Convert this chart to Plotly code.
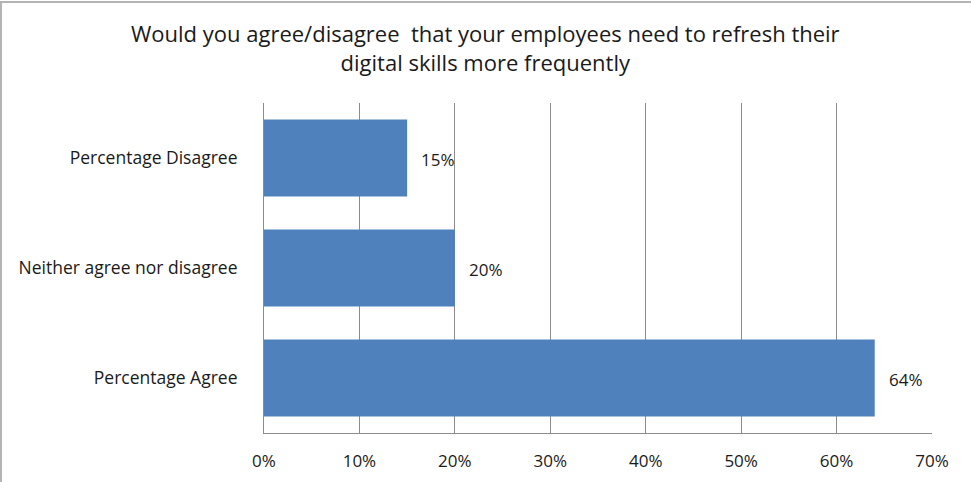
import plotly.graph_objects as go

# Survey responses (bottom to top in the chart)
categories = ["Percentage Agree", "Neither agree nor disagree", "Percentage Disagree"]
shares = [64, 20, 15]
labels = ["64%", "20%", "15%"]

tick_vals = [0, 10, 20, 30, 40, 50, 60, 70]
tick_text = ["0%", "10%", "20%", "30%", "40%", "50%", "60%", "70%"]

TITLE = "Would you agree/disagree  that your employees need to refresh their<br>digital skills more frequently"

BAR = "#4F81BD"
GRID = "#8C8C8C"
FONT = "'Open Sans', sans-serif"
TXT = "#1A1A1A"

fig = go.Figure(
    go.Bar(
        x=shares,
        y=categories,
        orientation="h",
        marker=dict(color=BAR, line=dict(width=0)),
        width=0.7,
        hoverinfo="skip",
    )
)

# value labels just to the right of each bar
for val, cat, lab in zip(shares, categories, labels):
    fig.add_annotation(
        x=val, y=cat, text=lab, showarrow=False,
        xanchor="left", xshift=12, yshift=-1,
        font=dict(family=FONT, size=17, color=TXT),
    )

W, H = 971, 482
L, R, T, B = 264, 39, 103, 49
pw, ph = W - L - R, H - T - B

def px_to_paper_x(px):
    return (px - L) / pw

def py_to_paper_y(py):
    return (H - B - py) / ph

# chart title, two centred lines
fig.add_annotation(
    xref="paper", yref="paper",
    x=px_to_paper_x(W / 2), y=py_to_paper_y(48),
    xanchor="center", yanchor="middle", align="center",
    text=TITLE, showarrow=False,
    font=dict(family=FONT, size=22, color=TXT),
)

# chart frame: top and left edges
fig.add_shape(type="line", xref="paper", yref="paper",
              x0=px_to_paper_x(0), x1=px_to_paper_x(W + 5),
              y0=py_to_paper_y(2), y1=py_to_paper_y(2),
              line=dict(color="#B4B4B4", width=2))
fig.add_shape(type="line", xref="paper", yref="paper",
              x0=px_to_paper_x(1), x1=px_to_paper_x(1),
              y0=py_to_paper_y(2), y1=py_to_paper_y(H + 5),
              line=dict(color="#B4B4B4", width=2))

fig.update_layout(
    width=W, height=H,
    margin=dict(l=L, r=R, t=T, b=B, autoexpand=False),
    paper_bgcolor="white", plot_bgcolor="white",
    showlegend=False,
    font=dict(family=FONT, size=17, color=TXT),
)

fig.update_xaxes(
    range=[0, 70], tickvals=tick_vals, ticktext=tick_text,
    showgrid=True, gridcolor=GRID, gridwidth=1,
    showline=True, linecolor=GRID, linewidth=1, mirror=False,
    zeroline=False, ticks="", ticklabelstandoff=13,
    tickfont=dict(family=FONT, size=17, color=TXT),
    automargin=False, fixedrange=True,
)
fig.update_yaxes(
    showgrid=False, showline=True, linecolor=GRID, linewidth=1,
    ticks="", ticklabelstandoff=22,
    tickfont=dict(family=FONT, size=17.5, color=TXT),
    automargin=False, fixedrange=True,
)

fig.write_html("out.html")
